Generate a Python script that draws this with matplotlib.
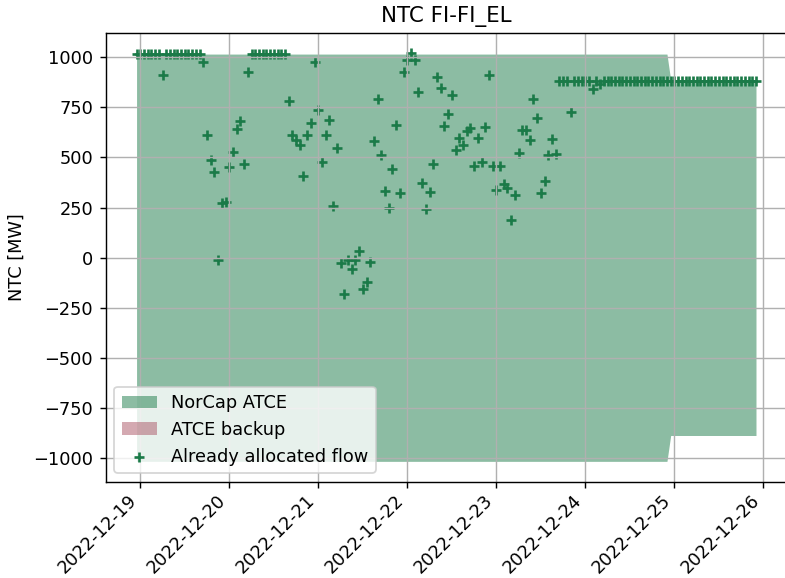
import matplotlib
matplotlib.use("Agg")
import matplotlib.pyplot as plt
import numpy as np
import pandas as pd

# hourly timestamps, 2022-12-18 23:00 .. 2022-12-25 22:00
times = pd.date_range("2022-12-18 23:00", periods=168, freq="h")

# NorCap ATCE band (upper / lower), changes at 2022-12-24 22:00
atce_upper = [1016] * 144 + [887] * 24
atce_lower = [-1016] * 144 + [-887] * 24

# ATCE backup (nothing drawn in this period)
backup_upper = [0] * 168
backup_lower = [0] * 168

# already allocated flow, one value per hour
flow = (
    [1018] * 7 + [911] + [1018] * 10 + [975, 612, 486, 429, -13, 274, 276, 452, 527, 644, 680, 466, 926]
    + [1018] * 10
    + [780, 614, 585, 564, 406, 614, 672, 975, 738, 476, 610, 685, 257, 549, -27, -183, -13, -55, -13,
       31, -155, -122, -22, 582, 792, 510, 331, 248, 441, 660, 324, 926, 985, 1021, 985, 826, 374, 245,
       327, 469, 901, 848, 655, 715, 813, 535, 599, 560, 630, 647, 456, 599, 477, 652, 910, 456, 336,
       456, 366, 347, 186, 311, 522, 639, 639, 585, 793, 697, 322, 381, 514, 592, 519]
    + [883] * 3 + [727] + [883] * 5 + [843, 883, 868] + [883] * 42
)

green = "#1b7a48"
pink = "#ab5565"

dpi = 128
fig = plt.figure(figsize=(785 / dpi, 578 / dpi), dpi=dpi)
ax = fig.add_axes([0.1345, 0.1665, 0.868, 0.777])

ax.fill_between(times, atce_lower, atce_upper, color=green, alpha=0.5, lw=0, label="NorCap ATCE")
ax.fill_between(times, backup_lower, backup_upper, color=pink, alpha=0.5, lw=0, label="ATCE backup")
ax.scatter(times, flow, marker="+", color=green, label="Already allocated flow")

ax.set_title("NTC FI-FI_EL")
ax.set_ylabel("NTC [MW]")
ax.grid(True)
ax.legend(loc="lower left")
ax.tick_params(axis="x", pad=2)
plt.setp(ax.get_xticklabels(), rotation=45, ha="right")

fig.savefig("out.png", dpi=dpi)
